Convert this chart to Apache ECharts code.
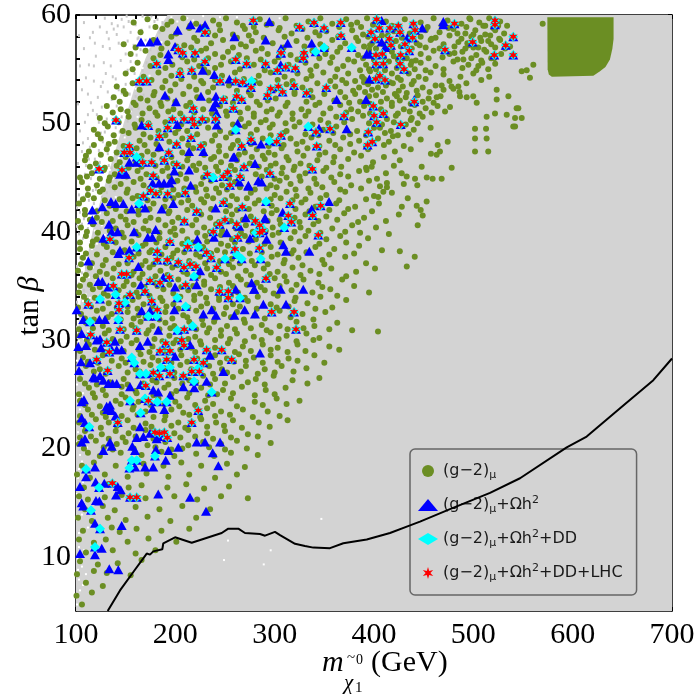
<!DOCTYPE html>
<html>
<head>
<meta charset="utf-8">
<title>Stau-L</title>
<script src="https://cdn.jsdelivr.net/npm/echarts@6/dist/echarts.min.js"></script>
<style>
    html, body { margin: 0; padding: 0; background: #fff; }
    #chart { width: 700px; height: 700px; }
</style>
</head>
<body>
<div id="chart"></div>
<script>
// ticks
var xTickLabels = [100, 200, 300, 400, 500, 600, 700];
var yTickLabels = [10, 20, 30, 40, 50, 60];
var xTicks = [100, 120, 140, 160, 180, 200, 220, 240, 260, 280, 300, 320, 340, 360, 380, 400, 420, 440, 460, 480, 500, 520, 540, 560, 580, 600, 620, 640, 660, 680, 700];
var yTicks = [6, 8, 10, 12, 14, 16, 18, 20, 22, 24, 26, 28, 30, 32, 34, 36, 38, 40, 42, 44, 46, 48, 50, 52, 54, 56, 58, 60];

// scanned (allowed) region, solid grey
var grayRegion = [[100,5],[100,27],[102,31],[106,35],[112,38],[119,41],[128,44],[138,47],[148,50],[158,53],[170,56],[182,58.5],[192,60],[700,60],[700,5]];
// fuzzy edge of the scan
var scanGray = [[101,33.5],[103,35.2],[101,36.8],[104,37.6],[106,36.2],[102,38.9],[107,39.4],[110,38.1],[101,40.5],[104,41.8],[108,41.2],[112,40.3],[115,41.7],[118,42.6],[103,43.4],[107,44.6],[111,43.7],[115,44.9],[120,43.9],[124,44.8],[128,45.6],[102,46.3],[106,47.4],[110,46.1],[114,47.8],[119,46.7],[123,47.5],[127,48.3],[132,47.2],[136,48.9],[140,49.6],[104,49.3],[109,50.1],[116,49.5],[121,50.8],[126,51.5],[131,50.4],[136,52.2],[141,51.6],[146,52.8],[150,53.6],[112,52.7],[118,53.9],[125,53.4],[130,54.6],[135,55.3],[140,54.1],[145,55.8],[150,56.4],[155,55.7],[158,57.2],[163,57.9],[120,56.2],[127,57.1],[133,57.8],[138,58.7],[143,57.4],[148,58.9],[153,59.4],[160,59.1],[166,58.6],[171,59.5],[176,59.8],[182,59.6],[187,59.3],[129,59.7],[136,59.2],[117,58.4],[113,55.4],[106,53.1],[102,51.8],[108,56.9],[112,36.4],[114,38.8],[118,39.9],[122,41.3],[127,42.4],[131,43.6],[134,44.2],[138,45.3],[142,46.6],[145,47.9],[148,48.8],[152,50.2],[156,51.3],[160,52.5],[163,53.7],[167,54.9],[171,55.6],[175,56.8],[179,57.6],[184,58.4],[189,59.0],[193,59.6],[101,31.2],[104,33.1],[108,34.6],[111,35.0],[116,37.2],[121,39.1],[125,40.2],[130,41.9],[135,42.7],[139,43.8],[144,45.1],[150,46.2],[154,48.1],[158,49.6],[163,51.4],[168,52.6],[173,53.9],[178,55.2],[183,56.6],[188,57.4],
[103,39.8],[105,42.7],[109,45.3],[112,48.6],[117,51.2],[122,52.4],[128,55.6],[134,56.9],[141,58.2],[146,59.6],[155,58.4],[161,56.3],[152,54.9],[143,53.1],[137,50.9],[129,49.2],[124,46.4],[118,45.6],[113,42.9],[109,39.9],[105,36.9],[102,34.4],[107,32.9],[110,36.7],[116,40.8],[121,42.1],[126,43.2],[133,46.1],[139,47.4],[144,49.2],[149,51.1],[154,52.7],[159,54.6],[165,56.8],[170,57.7],[174,58.9],[179,59.4],[151,59.9],[142,59.0],[131,58.4],[124,58.9],[119,57.4],[114,57.9],[110,54.2],[115,51.9],[120,48.9],[107,48.2],[103,45.1],[101,42.2],[104,55.3],[103,58.1],[108,59.3],[112,50.8],[118,55.3],[123,50.1],[127,53.8],[132,52.9],[137,54.3],[146,50.6],[152,57.6],[157,59.2],[162,57.8],[167,59.9],[141,44.6],[136,45.9],[130,47.9],[125,49.1],[119,44.3],[113,46.7],[108,43.2],[106,40.7],[111,41.9],[117,43.8]];
var scanWhite = [[101,6.2],[103,7.9],[102,9.8],[105,11.6],[101,13.4],[104,15.1],[102,17.3],[106,18.8],[101,20.6],[104,22.4],[102,24.7],[105,26.3],[101,28.1],[103,29.9],[102,31.6],[110,8.4],[112,12.7],[109,16.2],[111,20.1],[110,23.8],[111,27.5],[112,30.8],[114,33.9],[117,36.7],[121,38.9],[126,40.6],[131,42.8],[137,44.9],[143,46.8],[149,48.7],[155,51.1],[160,53.2],[167,55.1],[173,57.3],[181,59.2],[196,59.8],[212,59.7],[228,59.9],[245,59.8],[120,35.6],[129,39.7],[140,43.2],[152,47.5],[162,50.6],[174,54.4],[186,57.5],[202,59.4],[253,11.5],[296,10.6],[249,9.7],[289,9.3],[347,13.5],[108,21.7],[107,25.1],[104,19.4],[106,9.1],[103,12.2],[218,59.5],[236,59.6],[262,59.8],[305,59.7],
[101,5.6],[104,6.9],[107,7.4],[102,8.8],[108,10.6],[103,10.9],[106,13.9],[101,15.8],[107,16.9],[103,18.1],[102,21.5],[107,20.4],[104,23.6],[101,25.9],[106,27.8],[104,28.9],[108,30.1],[105,31.9],[107,33.6],[110,34.2],[113,35.8],[116,38.4],[119,40.1],[124,41.7],[128,43.9],[134,45.7],[140,48.1],[146,49.8],[151,51.9],[157,53.9],[163,55.8],[170,57.9],[177,59.7],[189,59.8]];

// dense top right patch
var greenBlock = [[574.5,59.8],[641.2,59.8],[641.2,57.8],[640,56.9],[637.5,55.9],[633,55.2],[627.5,54.8],[620.8,54.4],[579,54.3],[576,54.5],[574.8,55.0]];

// LHC exclusion curve
var exclusionCurve = [[131.9,5],[144.3,6.9],[157.7,8.6],[171.2,10.3],[174.5,10.2],[177.8,10.5],[186.9,10.7],[187.9,11.25],[199.7,11.8],[216.5,11.3],[246.7,12.2],[253.3,12.6],[263.4,12.6],[270.1,12.2],[285.2,12.1],[290.3,11.95],[300.3,12.3],[305.4,12.0],[320.5,11.2],[330.5,11.0],[338.9,10.85],[355.7,10.8],[369.1,11.25],[392.7,11.6],[416.1,12.2],[436.3,12.9],[446.3,13.25],[476.5,14.4],[516.8,15.9],[547,17.25],[594,20.1],[614.1,21.1],[647.7,23.7],[681.2,26.3],[700,28.3]];

// (g-2)mu points
var greenA = [[158,59.3],[172,59.6],[196,59.4],[208,59.7],[221,59.2],[238,59.5],[251,59.7],[262,59.3],[285,59.6],[297,59.2],[311,59.7],[334,59.4],[346,59.7],[358,59.2],[372,59.6],[383,59.3],[393,59.7],[412,59.4],[431,59.6],[447,59.3],[460,59.7],[474,59.5],[488,59.2],[497,59.6],[506,59.3],[516,59.7],[527,59.4],[534,59.0],
[165,58.4],[187,58.7],[201,58.3],[214,58.8],[233,58.4],[245,58.6],[258,58.2],[270,58.7],[281,58.4],[304,58.6],[317,58.3],[328,58.7],[341,58.4],[352,58.5],[378,58.6],[389,58.2],[408,58.1],[420,58.5],[436,58.3],[452,58.6],[466,58.4],[480,58.7],[492,58.3],[502,58.6],[512,58.2],[522,58.6],[531,58.3],
[148,57.3],[178,57.7],[192,57.4],[209,57.2],[222,57.6],[236,57.4],[248,57.7],[266,57.3],[277,57.6],[298,57.4],[322,57.6],[346,57.3],[358,57.7],[371,57.4],[384,57.6],[396,57.2],[422,57.6],[443,57.4],[457,57.7],[470,57.3],[485,57.5],[495,57.2],[508,57.6],[518,57.3],[527,57.7],[537,57.1],
[155,56.4],[170,56.7],[185,56.3],[226,56.7],[240,56.4],[253,56.6],[264,56.3],[281,56.7],[293,56.4],[316,56.3],[338,56.7],[351,56.4],[363,56.6],[384,56.3],[395,56.8],[418,56.6],[447,56.4],[460,56.7],[476,56.4],[489,56.6],[503,56.3],[513,56.6],[528,56.4],
[162,55.6],[175,55.3],[197,55.4],[212,55.7],[224,55.3],[246,55.4],[256,55.7],[279,55.4],[300,55.7],[314,55.4],[331,55.6],[342,55.3],[356,55.6],[369,55.3],[380,55.7],[392,55.4],[415,55.7],[437,55.4],[447,55.6],[462,55.3],[480,55.7],[495,55.4],[509,55.6],[522,55.5],
[150,54.6],[168,54.3],[183,54.7],[196,54.4],[219,54.3],[233,54.7],[247,54.4],[260,54.7],[284,54.4],[296,54.7],[310,54.3],[323,54.6],[337,54.4],[349,54.7],[361,54.3],[374,54.6],[388,54.3],[396,54.8],[418,54.6],[424,54.2],[435,54.6],[445,54.3],[457,54.7],[470,54.5],[487,54.3],[500,54.6],[516,54.3],
[141,53.4],[157,53.7],[187,53.3],[200,53.6],[214,53.4],[228,53.7],[238,53.3],[254,53.5],[285,53.7],[312,53.6],[328,53.3],[343,53.7],[361,53.4],[372,53.7],[385,53.3],[394,53.6],[404,53.3],[419,53.7],[429,53.4],[438,53.6],[449,53.3],[462,53.5],[478,53.4],[493,53.7],
[138,52.4],[150,52.7],[165,52.3],[178,52.6],[192,52.3],[208,52.7],[222,52.4],[250,52.3],[276,52.6],[301,52.3],[320,52.7],[338,52.4],[350,52.7],[371,52.4],[381,52.7],[402,52.6],[413,52.3],[421,52.7],[432,52.4],[444,52.6],[455,52.3],[467,52.5],
[131,51.6],[145,51.3],[160,51.7],[174,51.4],[186,51.6],[198,51.3],[211,51.6],[228,51.3],[245,51.6],[273,51.4],[285,51.7],[297,51.3],[311,51.6],[327,51.3],[341,51.7],[356,51.4],[366,51.7],[377,51.3],[390,51.6],[407,51.3],[418,51.6],[430,51.3],[441,51.7],[452,51.4],[464,51.6],
[124,50.5],[153,50.6],[166,50.3],[182,50.7],[232,50.3],[252,50.7],[266,50.4],[279,50.6],[291,50.3],[303,50.7],[318,50.4],[331,50.7],[346,50.3],[362,50.6],[378,50.4],[389,50.7],[413,50.4],[422,50.7],[437,50.3],[449,50.6],
[118,49.4],[132,49.7],[147,49.3],[160,49.6],[183,49.3],[203,49.5],[212,49.3],[233,49.6],[245,49.3],[270,49.7],[282,49.4],[295,49.6],[312,49.3],[320,49.7],[349,49.4],[362,49.7],[383,49.3],[406,49.6],[417,49.3],[428,49.7],[440,49.4],[457,49.6],
[125,48.6],[139,48.3],[164,48.4],[175,48.7],[194,48.3],[207,48.6],[237,48.4],[251,48.7],[263,48.4],[288,48.6],[316,48.6],[328,48.3],[337,48.7],[355,48.4],[369,48.7],[385,48.4],[404,48.6],[415,48.3],[447,48.5],
[113,47.4],[131,47.6],[141,47.3],[161,47.7],[172,47.4],[183,47.6],[207,47.3],[218,47.7],[244,47.4],[256,47.7],[270,47.3],[282,47.6],[294,47.3],[307,47.7],[323,47.4],[333,47.7],[351,47.3],[366,47.6],[380,47.3],[394,47.6],[421,47.4],[437,47.6],
[109,46.6],[120,46.3],[135,46.7],[144,46.4],[160,46.3],[187,46.7],[198,46.3],[212,46.6],[224,46.3],[236,46.7],[246,46.4],[262,46.6],[275,46.3],[290,46.7],[301,46.3],[314,46.6],[326,46.3],[343,46.6],[359,46.4],[374,46.7],[399,46.4],[426,46.6],
[116,45.4],[128,45.7],[139,45.3],[162,45.6],[171,45.3],[187,45.6],[205,45.3],[221,45.7],[243,45.6],[260,45.7],[281,45.3],[292,45.7],[307,45.4],[319,45.7],[331,45.4],[349,45.6],[366,45.3],[385,45.6],[412,45.4],
[106,44.6],[121,44.3],[133,44.7],[145,44.4],[158,44.6],[168,44.3],[202,44.7],[226,44.4],[236,44.7],[247,44.3],[260,44.6],[296,44.3],[305,44.7],[316,44.4],[326,44.7],[342,44.4],[360,44.6],[377,44.3],[395,44.7],[430,44.4],
[112,43.4],[124,43.7],[151,43.6],[162,43.3],[184,43.6],[203,43.4],[221,43.7],[232,43.3],[244,43.6],[257,43.3],[276,43.6],[300,43.4],[312,43.7],[322,43.3],[336,43.6],[352,43.4],[371,43.7],[400,43.3],[418,43.6],
[103,42.6],[134,42.4],[178,42.6],[189,42.3],[206,42.7],[217,42.4],[229,42.7],[255,42.4],[280,42.6],[297,42.4],[327,42.7],[341,42.3],[362,42.6],[381,42.3],[405,42.6],[443,42.4],
[109,41.6],[121,41.3],[131,41.7],[145,41.4],[163,41.6],[175,41.3],[193,41.7],[203,41.3],[226,41.6],[235,41.3],[257,41.6],[276,41.4],[297,41.7],[320,41.3],[331,41.6],[352,41.4],[370,41.7],[390,41.3],[425,41.6],
[105,40.4],[117,40.7],[140,40.3],[152,40.6],[168,40.3],[190,40.6],[199,40.3],[217,40.6],[229,40.4],[241,40.7],[261,40.3],[271,40.6],[298,40.4],[306,40.7],[326,40.4],[339,40.7],[358,40.3],[378,40.6],[402,40.4],[444,40.6],
[110,39.6],[121,39.3],[148,39.5],[163,39.7],[184,39.4],[200,39.7],[212,39.3],[230,39.6],[246,39.7],[257,39.3],[270,39.6],[281,39.3],[298,39.7],[316,39.4],[331,39.6],[352,39.3],[366,39.6],[394,39.4],
[104,38.4],[116,38.7],[131,38.6],[149,38.3],[167,38.7],[176,38.3],[190,38.6],[202,38.3],[228,38.6],[242,38.3],[253,38.7],[268,38.4],[296,38.6],[319,38.3],[341,38.6],[360,38.4],[385,38.7],[408,38.3],
[107,37.6],[130,37.4],[158,37.7],[170,37.3],[196,37.6],[214,37.3],[225,37.7],[245,37.3],[257,37.5],[277,37.3],[297,37.7],[310,37.4],[324,37.6],[348,37.4],[371,37.7],
[102,36.4],[114,36.7],[124,36.3],[138,36.6],[158,36.3],[174,36.7],[185,36.4],[197,36.7],[208,36.3],[232,36.6],[246,36.3],[258,36.7],[271,36.4],[289,36.6],[303,36.3],[318,36.7],[336,36.4],[357,36.6],[382,36.3],[401,36.6],
[107,35.6],[137,35.7],[151,35.4],[164,35.7],[179,35.3],[203,35.6],[229,35.4],[240,35.7],[254,35.3],[266,35.6],[282,35.3],[300,35.7],[312,35.4],[329,35.6],[344,35.3],[368,35.6],
[103,34.4],[117,34.7],[128,34.3],[143,34.6],[161,34.4],[188,34.7],[198,34.3],[213,34.6],[225,34.3],[236,34.7],[263,34.4],[290,34.6],[299,34.3],[317,34.6],[338,34.4],[356,34.7],[395,34.4],
[111,33.6],[133,33.4],[157,33.7],[168,33.3],[187,33.6],[198,33.3],[219,33.7],[232,33.4],[244,33.7],[258,33.3],[273,33.6],[296,33.3],[320,33.6],[333,33.4],[372,33.7],
[105,32.4],[121,32.7],[136,32.4],[152,32.6],[163,32.3],[190,32.6],[208,32.3],[221,32.7],[249,32.4],[262,32.6],[280,32.3],[305,32.7],[328,32.4],[351,32.6],
[110,31.6],[127,31.3],[156,31.4],[165,31.7],[177,31.3],[190,31.6],[199,31.3],[214,31.7],[228,31.4],[239,31.7],[252,31.3],[270,31.6],[287,31.4],[305,31.3],[322,31.7],[340,31.3],[363,31.6],
[104,30.4],[129,30.6],[151,30.3],[171,30.6],[194,30.4],[220,30.3],[232,30.7],[246,30.4],[262,30.6],[279,30.3],[296,30.7],[312,30.4],[332,30.6],[404,30.8],[345,30.2],
[113,29.6],[156,29.7],[177,29.4],[198,29.7],[216,29.3],[226,29.6],[240,29.3],[253,29.7],[268,29.4],[288,29.6],[303,29.3],[323,29.6],[355,29.4],
[107,28.4],[127,28.6],[146,28.3],[165,28.7],[177,28.4],[206,28.6],[222,28.3],[240,28.6],[252,28.3],[264,28.7],[279,28.4],[296,28.6],[314,28.3],[340,28.6],
[110,27.6],[124,27.3],[143,27.6],[160,27.3],[175,27.7],[189,27.4],[205,27.7],[216,27.3],[234,27.6],[247,27.3],[271,27.6],[290,27.3],[307,27.6],[332,27.4],
[104,26.4],[148,26.4],[163,26.7],[177,26.3],[199,26.5],[214,26.3],[228,26.7],[240,26.4],[258,26.6],[281,26.4],[299,26.7],[318,26.3],[345,26.5],
[113,25.6],[127,25.4],[146,25.7],[160,25.3],[189,25.6],[201,25.3],[226,25.6],[248,25.4],[267,25.7],[291,25.4],[311,25.6],
[104,24.4],[119,24.7],[140,24.4],[150,24.7],[163,24.3],[183,24.6],[200,24.3],[212,24.7],[230,24.4],[256,24.6],[280,24.3],[302,24.6],[325,24.4],
[112,23.6],[127,23.3],[157,23.6],[170,23.4],[196,23.6],[208,23.3],[232,23.7],[246,23.4],[268,23.6],[293,23.4],
[103,22.4],[120,22.7],[133,22.4],[152,22.6],[170,22.3],[189,22.6],[203,22.4],[226,22.7],[241,22.4],[258,22.6],[284,22.4],[313,22.6],
[109,21.6],[126,21.3],[140,21.6],[153,21.4],[170,21.7],[199,21.4],[213,21.7],[232,21.4],[250,21.6],[273,21.3],
[103,20.4],[120,20.7],[141,20.4],[150,20.6],[172,20.3],[190,20.6],[213,20.3],[228,20.6],[246,20.4],[262,20.7],[296,20.5],
[112,19.6],[124,19.3],[145,19.6],[166,19.4],[186,19.7],[199,19.3],[221,19.5],[239,19.3],[256,19.6],[283,19.4],
[106,18.4],[118,18.7],[140,18.4],[168,18.6],[188,18.4],[206,18.7],[226,18.4],[252,18.6],[270,18.3],
[101,17.6],[114,17.3],[129,17.6],[152,17.4],[171,17.7],[193,17.4],[214,17.6],[240,17.3],[262,17.6],
[108,16.4],[132,16.7],[153,16.4],[166,16.6],[192,16.4],[211,16.7],[229,16.3],[254,16.5],
[103,15.6],[112,15.3],[129,15.5],[146,15.7],[170,15.4],[199,15.6],[222,15.3],[246,15.6],[273,15.4],
[109,14.4],[127,14.7],[139,14.3],[160,14.6],[184,14.4],[207,14.7],[235,14.4],
[102,13.6],[116,13.3],[132,13.6],[150,13.4],[172,13.7],[195,13.3],[221,13.6],
[107,12.4],[136,12.7],[144,12.3],[161,12.6],[186,12.4],[214,12.6],
[103,11.6],[118,11.3],[130,11.6],[152,11.4],[173,11.7],[201,11.4],
[110,10.4],[137,10.6],[160,10.3],[180,10.6],
[104,9.6],[122,9.3],[142,9.4],[166,9.7],
[101,8.4],[118,8.7],[131,8.5],[155,8.3],
[110,7.6],[127,7.3],[100.5,6.4],[116,6.7],[106,5.6]];

var greenB = [[180,58.9],[192,59.1],[215,59.0],[228,58.9],[244,59.1],[268,59.0],[279,58.9],[292,59.1],[305,58.8],[322,59.0],[340,59.1],[365,58.9],[377,59.1],[387,58.9],[399,59.1],[405,58.9],[418,59.0],[425,58.8],[440,59.0],[454,58.9],[468,59.0],[483,59.1],[493,58.9],[510,59.0],[520,58.8],
[196,58.0],[219,57.9],[240,58.1],[262,57.9],[274,58.1],[289,57.9],[310,58.0],[333,57.9],[345,58.1],[364,58.0],[382,57.9],[394,58.0],[403,57.8],[414,58.1],[428,57.9],[447,58.0],[462,57.9],[476,58.1],[488,57.8],[498,58.0],[507,57.9],[517,58.1],[526,57.8],
[160,57.0],[186,56.9],[201,57.1],[216,57.0],[231,56.9],[258,57.0],[271,57.1],[287,56.9],[309,57.0],[330,57.1],[352,56.9],[366,57.0],[378,56.9],[390,57.1],[402,56.9],[414,57.0],[427,57.1],[438,56.9],[452,57.0],[466,56.9],[481,57.1],[492,56.9],[500,57.0],[511,56.8],[522,57.0],[532,56.9],
[178,56.0],[207,56.1],[219,55.9],[233,56.0],[248,56.1],[272,56.0],[286,55.9],[304,56.1],[323,55.9],[345,56.0],[358,56.1],[374,55.9],[389,56.0],[400,55.9],[410,56.1],[424,55.9],[433,56.0],[442,55.8],[455,56.0],[469,56.1],[484,55.9],[498,56.0],[508,55.8],[518,56.0],
[157,55.0],[190,55.1],[205,54.9],[229,55.0],[240,55.1],[265,55.0],[290,54.9],[320,55.1],[336,54.9],[363,55.0],[386,54.9],[402,55.0],[411,54.9],[423,55.1],[430,54.8],[441,55.0],[452,54.9],[470,55.0],[489,55.1],[503,54.9],[515,55.0],
[176,54.0],[190,53.9],[206,54.1],[226,53.9],[240,54.0],[269,54.1],[280,53.9],[303,54.0],[318,53.9],[332,54.1],[356,53.9],[368,54.0],[381,53.9],[390,54.1],[398,53.9],[409,54.0],[416,53.8],[427,54.0],[440,53.9],[452,54.1],[476,53.9],[508,54.0],
[148,53.0],[164,53.1],[179,52.9],[195,53.0],[221,53.1],[233,52.9],[262,53.0],[274,52.9],[300,53.1],[320,52.9],[336,53.0],[351,53.1],[366,52.9],[379,53.0],[391,52.9],[398,53.1],[409,52.9],[425,53.0],[433,52.8],[443,53.0],[456,52.9],[470,53.1],[486,52.9],
[144,52.0],[158,51.9],[172,52.1],[185,51.9],[200,52.0],[215,51.9],[234,52.1],[258,51.9],[282,52.0],[293,52.1],[313,51.9],[332,52.0],[345,51.9],[360,52.1],[375,51.9],[386,52.0],[396,51.8],[407,52.0],[418,51.9],[426,52.1],[437,51.8],[449,52.0],[460,51.9],
[137,51.0],[152,51.1],[167,50.9],[180,51.0],[193,51.1],[205,50.9],[219,51.0],[237,50.9],[251,51.1],[265,51.0],[279,50.9],[292,51.1],[305,51.0],[318,50.9],[334,51.1],[349,50.9],[372,51.0],[384,51.1],[396,50.9],[411,51.0],[424,50.9],[436,51.1],[446,50.9],[458,51.0],
[129,50.0],[143,50.1],[159,49.9],[173,50.0],[190,50.1],[206,49.9],[224,50.0],[242,50.1],[258,49.9],[274,50.0],[286,50.1],[298,49.9],[311,50.0],[325,50.1],[338,49.9],[354,50.0],[370,50.1],[395,50.0],[408,49.9],[420,50.1],[432,49.9],[444,50.0],
[122,49.0],[138,48.9],[153,49.1],[168,49.0],[190,48.9],[200,49.1],[222,49.0],[240,48.9],[256,49.1],[276,49.0],[296,48.9],[309,49.1],[331,49.0],[344,48.9],[359,49.1],[376,49.0],[392,48.9],[411,49.1],[424,48.9],[435,49.0],
[118,48.0],[133,48.1],[148,47.9],[169,48.0],[181,48.1],[200,47.9],[213,48.0],[229,48.1],[244,47.9],[258,48.0],[276,48.1],[294,47.9],[309,48.0],[322,48.1],[345,47.9],[361,48.0],[376,48.1],[392,47.9],[410,48.0],[430,47.9],
[110,47.0],[125,47.1],[150,46.9],[166,47.0],[178,47.1],[196,46.9],[213,47.0],[229,47.1],[239,46.9],[251,47.0],[264,47.1],[277,46.9],[288,47.0],[300,47.1],[312,46.9],[329,47.0],[345,47.1],[360,46.9],[387,47.0],[410,46.9],
[114,46.0],[129,45.9],[141,46.1],[153,45.9],[166,46.0],[180,46.1],[192,45.9],[207,46.0],[218,46.1],[230,45.9],[241,46.0],[256,46.1],[268,45.9],[284,46.0],[296,46.1],[308,45.9],[320,46.0],[335,46.1],[352,45.9],[367,46.0],[392,45.9],[420,46.1],
[104,45.0],[111,45.1],[124,44.9],[134,45.0],[151,45.1],[165,44.9],[181,45.0],[194,45.1],[211,44.9],[228,45.0],[238,45.1],[254,44.9],[267,45.0],[287,45.1],[300,44.9],[312,45.0],[325,45.1],[340,44.9],[357,45.0],[374,45.1],[403,44.9],
[112,44.0],[127,43.9],[139,44.1],[152,43.9],[174,44.0],[186,44.1],[198,43.9],[209,44.0],[220,44.1],[231,43.9],[241,44.0],[252,43.9],[265,44.1],[280,43.9],[292,44.0],[302,44.1],[321,43.9],[334,44.0],[348,44.1],[366,43.9],[387,44.0],[413,44.1],
[107,43.0],[118,43.1],[129,42.9],[144,43.0],[157,43.1],[172,42.9],[190,43.0],[198,43.1],[213,42.9],[226,43.0],[238,43.1],[250,42.9],[262,43.0],[272,43.1],[284,42.9],[296,43.0],[306,43.1],[318,42.9],[331,43.0],[346,43.1],[365,42.9],[392,43.0],[434,43.1],
[109,42.0],[121,41.9],[140,42.1],[151,41.9],[163,42.0],[174,42.1],[194,41.9],[212,42.0],[224,41.9],[236,42.1],[251,41.9],[262,42.0],[274,42.1],[289,41.9],[302,42.0],[321,42.1],[335,41.9],[355,42.0],[374,42.1],[398,41.9],[447,42.0],
[102,41.0],[114,41.1],[126,40.9],[137,41.0],[150,41.1],[158,40.9],[170,41.0],[183,41.1],[197,40.9],[210,41.0],[221,41.1],[244,40.9],[256,41.0],[268,41.1],[281,40.9],[293,41.0],[305,41.1],[325,40.9],[344,41.0],[363,41.1],[384,40.9],[412,41.0],
[111,40.0],[122,39.9],[134,40.1],[146,39.9],[160,40.0],[173,40.1],[184,39.9],[195,40.0],[207,40.1],[222,39.9],[235,40.0],[247,40.1],[266,39.9],[278,40.0],[291,40.1],[304,39.9],[320,40.0],[334,40.1],[346,39.9],[371,40.0],[386,39.9],
[104,39.0],[117,39.1],[128,38.9],[140,39.0],[156,39.1],[170,38.9],[181,39.0],[193,39.1],[207,38.9],[218,39.0],[232,39.1],[246,38.9],[260,39.0],[274,39.1],[290,38.9],[306,39.0],[325,39.1],[345,38.9],[372,39.0],
[110,38.0],[121,37.9],[137,38.1],[153,37.9],[163,38.0],[174,38.1],[186,37.9],[198,38.0],[209,38.1],[221,37.9],[236,38.0],[250,38.1],[262,37.9],[275,38.0],[287,38.1],[303,37.9],[317,38.0],[332,38.1],[355,37.9],[380,38.0],
[105,37.0],[116,37.1],[127,36.9],[143,37.0],[152,37.1],[166,36.9],[178,37.0],[191,37.1],[202,36.9],[219,37.0],[230,37.1],[243,36.9],[254,37.0],[265,37.1],[280,36.9],[293,37.0],[309,37.1],[328,36.9],[350,37.0],[392,37.1],
[110,36.0],[120,35.9],[131,36.1],[146,35.9],[156,36.0],[167,36.1],[180,35.9],[192,36.0],[212,36.1],[223,35.9],[236,36.0],[251,36.1],[263,35.9],[276,36.0],[295,36.1],[310,35.9],[326,36.0],[345,36.1],[372,35.9],
[104,35.0],[114,35.1],[124,34.9],[148,35.0],[158,35.1],[169,34.9],[182,35.0],[194,35.1],[206,34.9],[218,35.0],[229,35.1],[245,34.9],[258,35.0],[272,35.1],[286,34.9],[305,35.0],[322,35.1],[348,34.9],[380,35.0],
[108,34.0],[119,33.9],[132,34.1],[150,33.9],[163,34.0],[174,34.1],[185,33.9],[205,34.0],[219,34.1],[231,33.9],[244,34.0],[256,34.1],[270,33.9],[283,34.0],[303,34.1],[321,33.9],[346,34.0],[363,34.1],
[102,33.0],[115,33.1],[127,32.9],[141,33.0],[152,33.1],[162,32.9],[177,33.0],[191,33.1],[203,32.9],[213,33.0],[226,33.1],[238,32.9],[251,33.0],[265,33.1],[282,32.9],[302,33.0],[314,33.1],[341,32.9],[358,33.0],
[109,32.0],[118,31.9],[132,32.1],[145,31.9],[158,32.0],[170,32.1],[184,31.9],[197,32.0],[212,32.1],[227,31.9],[240,32.0],[256,32.1],[269,31.9],[290,32.0],[316,32.1],[339,31.9],
[103,31.0],[117,31.1],[133,30.9],[148,31.0],[160,31.1],[173,30.9],[184,31.0],[195,31.1],[207,30.9],[221,31.0],[234,31.1],[246,30.9],[260,31.0],[276,31.1],[292,30.9],[313,31.0],[329,31.1],[355,31.0],[378,30.9],
[111,30.0],[121,29.9],[137,30.1],[145,29.9],[161,30.0],[179,30.1],[187,29.9],[201,30.0],[213,30.1],[225,29.9],[240,30.0],[255,30.1],[270,29.9],[287,30.0],[304,30.1],[322,29.9],[339,30.0],
[104,29.0],[119,29.1],[129,28.9],[148,29.0],[163,29.1],[174,28.9],[189,29.0],[205,29.1],[220,28.9],[233,29.0],[246,29.1],[260,28.9],[276,29.0],[296,29.1],[313,28.9],[331,29.0],[365,29.1],
[112,28.0],[122,27.9],[136,28.1],[150,27.9],[168,28.0],[183,28.1],[196,27.9],[212,28.0],[230,28.1],[245,27.9],[259,28.0],[271,28.1],[288,27.9],[303,28.0],[323,28.1],[350,27.9],
[104,27.0],[118,27.1],[130,26.9],[152,27.0],[164,27.1],[181,26.9],[199,27.0],[222,27.1],[238,26.9],[252,27.0],[266,27.1],[283,26.9],[300,27.0],[319,27.1],
[109,26.0],[121,25.9],[134,26.1],[152,25.9],[168,26.0],[181,26.1],[193,25.9],[207,26.0],[221,26.1],[235,25.9],[250,26.0],[273,26.1],[290,25.9],[333,26.0],
[103,25.0],[117,25.1],[130,24.9],[146,25.0],[161,25.1],[178,24.9],[196,25.0],[214,25.1],[233,24.9],[242,25.0],[258,25.1],[280,24.9],[300,25.0],
[109,24.0],[124,23.9],[145,24.1],[158,23.9],[175,24.0],[189,24.1],[204,23.9],[220,24.0],[238,24.1],[262,23.9],[288,24.0],[312,24.1],
[104,23.0],[116,23.1],[130,22.9],[146,23.0],[162,23.1],[178,22.9],[190,23.0],[214,23.1],[225,22.9],[240,23.0],[255,23.1],[278,22.9],[305,23.0],
[110,22.0],[125,21.9],[141,22.1],[158,21.9],[176,22.0],[196,22.1],[210,21.9],[232,22.0],[249,22.1],[267,21.9],[295,22.0],
[104,21.0],[115,21.1],[133,20.9],[147,21.0],[160,21.1],[178,20.9],[205,21.0],[220,21.1],[238,20.9],[256,21.0],[283,21.1],
[108,20.0],[128,20.1],[137,19.9],[158,20.0],[180,20.1],[196,19.9],[207,20.0],[234,20.1],[250,19.9],[272,20.0]];

var greenOuter = [[398,57.4],[409,57.3],[433,57.4],[420,56.2],[395,55.0],[405,54.5],[438,55.7],[412,53.5],[423,52.5],[395,52.5],[438,50.5],[400,49.6],[419,48.8],[390,53.8],[430,56.0],[446,57.2],[484,58.3],[500,58.2],[515,57.6],[490,55.9],[505,55.3],[512,59.0],[496,59.7],[525,59.0],[481,56.5],[521,56.0],[475,58.8],[458,57.8],[505,57.0],[494,57.4],
[441,37.7],[433,36.8],[426,38.2],[428,42.3],[449,41.5],[453,42.8],[415,39.8],[413,44.5],
[533.6,50.8],[542,50.5],[548.7,50.5],[543.6,51.4],[545.3,51.4],[535.3,52.5],[542,49.7],[540.2,49.7],[523.5,53.1],[557,54.2],[548.7,54.8],[553.7,54.9],[560.4,55.4],[569.8,59.2],[523.5,52.2],[521.8,50.9],[513.4,50.6],[501.7,49.5],[512.8,49.5],[501.7,48.6],[513.4,48.6],[501.7,47.4],[515,47.4],[478.2,45.9],[459,44.9],[468.1,44.9],[441.3,44.9],[448,46.0],[453.1,45.0],[432.9,45.1],[427.9,45.4],[464.1,48.0],[474.2,48.3],[463.1,47.1],[466.4,47.4],[457.3,47.2],[443.6,44.3],[406,44.2],[409.4,43.7],[404.3,43.2],[397.7,46.0],[392.6,45.7],[486.6,52.5],[493.3,52.4],[479.9,53.2],[484.9,53.4],[468.1,53.5],[463.1,52.4],[476.5,51.5],[471.5,51.1],[499.9,52.5],[503.4,51.9]];

// (g-2)+Oh2 only
var bluePts = [[294.6,59.4],[215.4,59.1],[229.9,59.1],[224.9,58.8],[202.4,58.6],[165.4,57.5],[174.5,57.5],[181.8,57.6],[313.1,57.4],[337.3,57.4],[199.7,57.1],[193,56.4],[193,55.9],[306.1,56.5],[306.1,55.4],[227.5,54.9],[239.2,54.5],[254.4,54.1],[225.8,52.5],[240.9,52.5],[240.6,51.9],[238.2,51.5],[241.6,50.9],[189.6,52.6],[200.7,52.0],[166.1,49.85],[202,49.9],[241.6,49.85],[262.8,50.0],[183.9,47.85],[213.8,47.4],[228.2,47.4],[258.4,46.9],[153.7,46.4],[161.1,46.4],[144.3,45.3],[150.3,45.3],[199,45.6],[213.8,45.7],[280.2,46.3],[286.9,44.6],[183.6,44.5],[188.6,44.5],[194,44.5],[196.3,44.8],[177.1,44.5],[215.4,44.3],[273.5,44.3],[135.2,42.8],[139.9,42.6],[147.6,42.6],[156.1,42.1],[116.4,42.0],[126.5,42.3],[116.4,41.1],[169.5,42.2],[186.3,42.1],[197.9,42.6],[240.6,42.2],[290.3,41.2],[308.1,41.8],[337.3,42.1],[133.2,40.7],[158.4,40.0],[180.2,40.2],[127.5,39.4],[172.2,39.5],[176.8,39.5],[222.1,39.3],[238.9,39.5],[251.7,39.9],[275.2,39.4],[291.9,39.3],[308.7,38.8],
[259.4,58.0],[291,57.7],[306.4,56.9],[268.4,53.75],[362.4,52.2],[392,52.2],[395.3,54.1],[392.6,56.4],[396,56.4],[407.7,57.5],[411.1,57.0],[407.7,59.5],[448.6,58.8],[433.5,57.9],[440.6,52.2],[372.5,49.5],[344.6,49.55],[286.2,48.1],[277.9,48.4],[259.4,46.9],[264.4,44.6],[273.5,44.2],[283.5,44.7],[469.8,59.4],[469.8,59.1],
[135.9,40.0],[142,40.0],[112.4,37.3],[144.3,38.3],[153.7,38.3],[142.6,38.0],[162.7,36.8],[187.9,35.8],[199.7,34.9],[221.5,35.1],[122.5,35.4],[126.5,35.4],[132.6,34.9],[165.4,35.1],[224.9,36.4],[276.8,35.3],[279.5,34.7],[306.1,34.7],[328.8,34.7],[311.4,38.2],[334.9,38.2],[107.3,31.9],[123.5,31.9],[129.2,31.9],[100.7,32.8],[166.1,32.7],[174.5,32.7],[182.8,30.9],[199,32.8],[228.2,32.4],[240.9,32.3],[259.4,32.3],[288.6,33.3],[311.4,33.3],[269.8,32.8],[236.6,32.8],[105.7,30.6],[102.3,29.4],[110.1,29.5],[120.8,30.0],[124.2,30.1],[125.2,29.3],[139.3,29.9],[141,29.1],[146,29.1],[136,29.1],[164.4,29.5],[172.2,29.9],[285.2,28.8],[234.9,28.6],[214.8,29.6],[199.7,28.5],[105,28.0],[114.1,27.9],[103,27.2],[117.4,26.6],[119.1,26.5],[124.2,26.7],[127.5,26.3],[132.6,26.0],[136.9,26.0],[141,26.0],[154.4,25.7],[165.1,25.9],[177.8,25.4],[182.8,25.2],[194.6,24.9],[208,25.7],[219.1,25.6],[231.5,26.2],[248.3,27.1],[108,24.5],[105.7,24.3],[130.9,23.9],[134.2,24.0],[135.9,23.5],[131.5,23.6],[105.7,22.8],[109,22.4],[164.4,22.0],[167.8,21.1],[161.1,21.0],[181.2,20.9],[182.8,21.1],[174.5,21.4],[193,19.8],[203,20.1],[221.5,20.6],[229.9,20.6],[237.6,19.6],[245,20.6],[180.5,19.9],[156.7,20.2],[159.4,19.8],[134.2,20.6],[135.9,20.2],[127.5,19.8],[105.7,20.6],[109,20.9],[119.1,18.3],[110.1,17.4],[159.4,18.3],[169.5,18.3],[177.8,18.3],[243.3,18.4],[190.3,18.9],
[139.9,23.0],[177.1,23.7],[188.9,23.6],[104,16.5],[119.8,16.9],[128.5,16.8],[142,16.5],[145,16.2],[140.3,15.7],[182.8,15.8],[214.8,15.5],[230.9,14.2],[120.1,15.2],[123.5,15.15],[105.7,15.0],[107.3,14.7],[119.1,13.1],[146,12.9],[104,10.3],[125.9,10.8],[119.1,10.2],[133.5,8.9],[142.6,8.8],
[270.8,41.3],[290.3,41.3],[354.7,42.8],[264.4,40.5],[279.2,34.7],[260.8,34.7],[280.2,32.4]];

// (g-2)+Oh2+DD, not excluded by LHC
var cyanPts = [[341.3,56.6],[276.8,53.9],[260.8,49.4],[333.9,49.7],[294.6,48.4],[161.1,46.9],[238.2,45.0],[291.3,42.8],[309.7,40.4],[163.4,42.6],[161.1,38.6],[223.1,38.6],[281,39.9],[349.7,57.0],[377.5,57.0],[212.8,38.9],[124.2,33.8],[149.3,33.5],[139.9,34.2],[114.1,31.7],[142.6,31.9],[172.8,32.2],[181.2,32.2],[202,33.9],[210.4,33.1],[218.8,35.9],[202,30.9],[217.5,31.3],[265.1,33.9],[250,37.5],[261.8,37.9],[266.8,37.5],[285.9,37.5],[156.1,28.4],[158.7,27.9],[164.4,26.9],[170.5,26.9],[185.3,27.5],[194.6,27.5],[223.1,27.4],[218.8,26.2],[236.6,25.2],[154.4,24.4],[169.5,24.6],[181.8,24.3],[191.3,24.3],[165.1,23.3],[113.4,22.0],[156.1,18.9],[161.1,18.9],[153.7,18.2],[110.1,18.1],[179.5,19.3],[123.2,16.4],[115.1,14.3],[124.2,12.6],[119.1,10.9],[288.6,40.2]];

// all constraints incl. LHC
var redPts = [[278.5,59.5],[325,58.9],[229.9,58.4],[203,56.8],[207.4,56.5],[219.8,56.5],[229.9,55.7],[181.2,55.5],[204.7,54.6],[216.5,54.9],[260.8,55.9],[271.8,55.5],[290.9,55.5],[302.6,54.9],[311.1,55.2],[320.8,55.1],[329.5,56.5],[163.7,53.9],[171.2,53.9],[245,53.9],[267.8,53.8],[276.2,53.3],[296,53.2],[303.7,53.4],[319.5,53.5],[332.2,52.8],[248.3,52.2],[261.8,52.5],[266.8,52.2],[258.4,51.4],[218.1,51.4],[197,50.4],[208.7,50.4],[217.1,50.4],[227.2,50.4],[240.6,50.4],[219.1,49.9],[172.8,49.8],[192.3,49.6],[140.3,50.3],[306.4,48.9],[302,48.3],[276.2,48.5],[225.8,47.9],[215.8,48.7],[201.4,48.1],[183.9,48.8],[153.7,47.9],[148.6,47.3],[154.4,47.3],[167.1,46.4],[176.2,46.4],[193.3,47.3],[188.9,46.6],[201.4,46.2],[232.2,45.3],[248.3,45.1],[252.7,45.5],[255,44.3],[269.1,46.0],[265.1,45.1],[295.3,45.4],[337.9,45.8],[123.2,45.8],[146.3,45.7],[177.8,45.2],[180.5,43.5],[175.2,43.8],[167.8,43.3],[192.3,43.5],[210,43.6],[221.5,41.9],[248.3,42.7],[267.4,42.3],[315.4,42.6],[316.8,40.9],[209,41.0],[244.7,40.7],[250,41.1],[238.2,40.0],[262.8,39.5],[280.5,41.0],[287.9,40.1],[342.3,47.9],[134.2,39.3],[194.6,39.1],[212.4,38.6],[284.5,38.5],
[339.6,59.3],[349.7,58.8],[366.5,59.3],[366.8,58.1],[402.7,59.6],[397,58.4],[405.3,58.8],[416.1,58.8],[424.5,59.0],[439.6,59.2],[441.3,58.6],[426.2,58.4],[401,57.8],[415.4,57.8],[417.1,57.2],[431.2,57.3],[438.9,57.9],[435.5,56.7],[426.9,56.3],[408.4,56.4],[402,56.3],[402,55.5],[409.4,55.5],[426.2,55.5],[430.2,55.0],[406,54.4],[401.7,54.1],[411.1,54.0],[440.6,52.0],[399.3,51.6],[400,50.7],[409.4,50.9],[402.7,50.1],[426.9,49.9],[394.3,49.2],[398.3,48.3],[393.6,48.0],[369.8,50.7],[355.7,49.5],[341.6,49.2],[352,53.3],[328.8,56.0],[306.4,56.5],[260.8,53.9],[292.8,52.6],[308,52.9],[266.8,47.9],
[153.4,37.6],[181.8,38.2],[181.8,37.4],[191.9,37.4],[203,37.2],[214.8,37.0],[220.8,36.8],[208.7,36.7],[231.5,38.1],[235.9,37.6],[241.6,36.7],[260,38.4],[146,36.1],[151,36.1],[174.5,35.5],[184.6,35.3],[194,35.8],[210.4,35.1],[137.6,35.0],[169.5,34.5],[154.4,34.2],[176.2,33.6],[143.3,33.4],[143.3,32.8],[112.4,33.3],[181.8,32.8],[244.3,34.5],[253.3,34.5],[253.3,33.9],[291.3,35.7],[297,32.6],[319.5,32.6],[321.5,31.0],[161.1,30.9],[144.3,31.0],[114.8,30.5],[209,31.0],[206.4,30.0],[208.7,29.5],[190.3,29.7],[131,29.8],[133.6,28.9],[184.6,29.0],[194.6,29.0],[231.5,29.1],[246.7,29.1],[256.7,28.2],[218.8,28.2],[191.3,28.2],[228.2,27.9],[120.8,28.2],[131.9,27.2],[177.8,27.0],[183.9,26.7],[194.6,26.9],[208,26.7],[216.5,27.1],[224.1,27.1],[170.2,25.8],[172.8,24.4],[223.1,23.5],[216.5,22.4],[142,22.4],[179.5,21.5],[183.9,21.4],[188.9,21.5],[191.9,21.0],[136.6,16.8],[154.4,15.5],[161.1,15.5],
[346.3,42.4],[313.7,41.5],[338.2,41.5],[343.9,39.7],[261.8,40.7],[284.9,40.6],[284.9,39.9],
[481,59.2],[521.8,59.5],[521.8,59.1],[499.3,57.5],[540.2,58],[532.6,57.2],[521.1,56.3],[540.2,56.3],[471.5,56.8]];

var legendText = {
    'g2': '(g\u22122){s|\u03bc}',
    'oh2': '(g\u22122){s|\u03bc}+\u03a9h{p|2}',
    'dd': '(g\u22122){s|\u03bc}+\u03a9h{p|2}+DD',
    'lhc': '(g\u22122){s|\u03bc}+\u03a9h{p|2}+DD+LHC'
};

var STAR = 'path://M10,0L12,6.54L18.66,5L14,10L18.66,15L12,13.46L10,20L8,13.46L1.34,15L6,10L1.34,5L8,6.54Z';
var serif = '"Liberation Serif", "Times New Roman", serif';
var sans = '"DejaVu Sans", sans-serif';

var greenPts = greenA.concat(greenB, greenOuter);
// each subset is also drawn with the markers of the sets that contain it
var blueAll = bluePts.concat(cyanPts, redPts);
var cyanAll = cyanPts.concat(redPts);

function polygonSeries(points, color, z) {
    return {
        type: 'custom',
        coordinateSystem: 'cartesian2d',
        silent: true,
        clip: true,
        z: z,
        data: [points[0]],
        renderItem: function (params, api) {
            var pts = points.map(function (p) { return api.coord(p); });
            return { type: 'polygon', shape: { points: pts }, style: { fill: color } };
        }
    };
}

function scatter(name, pts, symbol, size, color, z) {
    return {
        name: name,
        type: 'scatter',
        data: pts,
        symbol: symbol,
        symbolSize: size,
        itemStyle: { color: color, opacity: 1 },
        z: z,
        silent: true,
        clip: true
    };
}

function xAxisOf(pos, labels) {
    return {
        type: 'value', position: pos, min: 100, max: 700, interval: 100,
        axisLine: { onZero: false, lineStyle: { color: '#000', width: 1.5 } },
        axisTick: { inside: true, length: 4, customValues: xTicks, lineStyle: { color: '#000', width: 2 } },
        axisLabel: { show: labels, customValues: xTickLabels, margin: 9, color: '#000', fontFamily: serif, fontSize: 30 },
        splitLine: { show: false }
    };
}

function yAxisOf(pos, labels) {
    return {
        type: 'value', position: pos, min: 5, max: 60,
        axisLine: { onZero: false, lineStyle: { color: '#000', width: 1.5 } },
        axisTick: { inside: true, length: 4, customValues: yTicks, lineStyle: { color: '#000', width: 2 } },
        axisLabel: { show: labels, customValues: yTickLabels, margin: 5, color: '#000', fontFamily: serif, fontSize: 30 },
        splitLine: { show: false }
    };
}

var option = {
    animation: false,
    backgroundColor: '#fff',
    grid: { left: 76, right: 28, top: 15, bottom: 89 },
    xAxis: [xAxisOf('bottom', true), xAxisOf('top', false)],
    yAxis: [yAxisOf('left', true), yAxisOf('right', false)],
    legend: {
        orient: 'vertical',
        left: 410,
        top: 449,
        padding: [12, 14, 12, 8],
        itemGap: 14,
        itemWidth: 20,
        itemHeight: 12,
        borderColor: '#666',
        borderWidth: 1.5,
        borderRadius: 5,
        data: [
            { name: 'g2', icon: 'circle' },
            { name: 'oh2', icon: 'triangle' },
            { name: 'dd', icon: 'diamond' },
            { name: 'lhc', icon: STAR }
        ],
        formatter: function (name) { return legendText[name]; },
        textStyle: {
            fontFamily: sans, fontSize: 16, color: '#1a1a1a', lineHeight: 20,
            rich: {
                s: { fontFamily: sans, fontSize: 11, lineHeight: 20, verticalAlign: 'bottom', color: '#1a1a1a' },
                p: { fontFamily: sans, fontSize: 11, lineHeight: 20, verticalAlign: 'top', color: '#1a1a1a' }
            }
        }
    },
    graphic: [
        { type: 'text', left: 468, top: 413, style: { text: 'Stau-L', font: '18px "DejaVu Sans"', fill: '#1a1a1a' } },
        { type: 'text', x: 30, y: 306, rotation: Math.PI / 2,
          style: { text: '{a|tan }{b|\u03b2}', align: 'center', verticalAlign: 'middle',
                   rich: { a: { fontFamily: serif, fontSize: 30, color: '#000' },
                           b: { fontFamily: serif, fontSize: 30, fontStyle: 'italic', color: '#000' } } } },
        { type: 'text', left: 322, top: 648, style: { text: 'm', font: 'italic 30px "Liberation Serif"', fill: '#000' } },
        { type: 'text', left: 347, top: 651, style: { text: '~', font: '15px "Liberation Serif"', fill: '#000' } },
        { type: 'text', left: 356, top: 653, style: { text: '0', font: '14px "Liberation Serif"', fill: '#000' } },
        { type: 'text', left: 344, top: 673, style: { text: '\u03c7', font: 'italic 21px "Liberation Serif"', fill: '#000' } },
        { type: 'text', left: 355, top: 681, style: { text: '1', font: '15px "Liberation Serif"', fill: '#000' } },
        { type: 'text', left: 371, top: 648, style: { text: '(GeV)', font: '30px "Liberation Serif"', fill: '#000' } }
    ],
    series: [
        polygonSeries(grayRegion, '#d3d3d3', 1),
        scatter('scanGray', scanGray, 'rect', [2, 3], '#c8c8c8', 2),
        scatter('scanWhite', scanWhite, 'rect', [2, 2], '#ffffff', 2),
        scatter('g2', greenPts, 'circle', 6, '#6b8e23', 3),
        polygonSeries(greenBlock, '#6b8e23', 3),
        scatter('oh2', blueAll, 'triangle', [10, 9], '#0000ff', 4),
        scatter('dd', cyanAll, 'diamond', [10, 10], '#00ffff', 5),
        scatter('lhc', redPts, STAR, 9, '#ff0000', 6),
        {
            type: 'line',
            data: exclusionCurve,
            showSymbol: false,
            silent: true,
            z: 7,
            lineStyle: { color: '#000', width: 2 }
        }
    ]
};

var myChart = echarts.init(document.getElementById('chart'));
myChart.setOption(option);
</script>
</body>
</html>
